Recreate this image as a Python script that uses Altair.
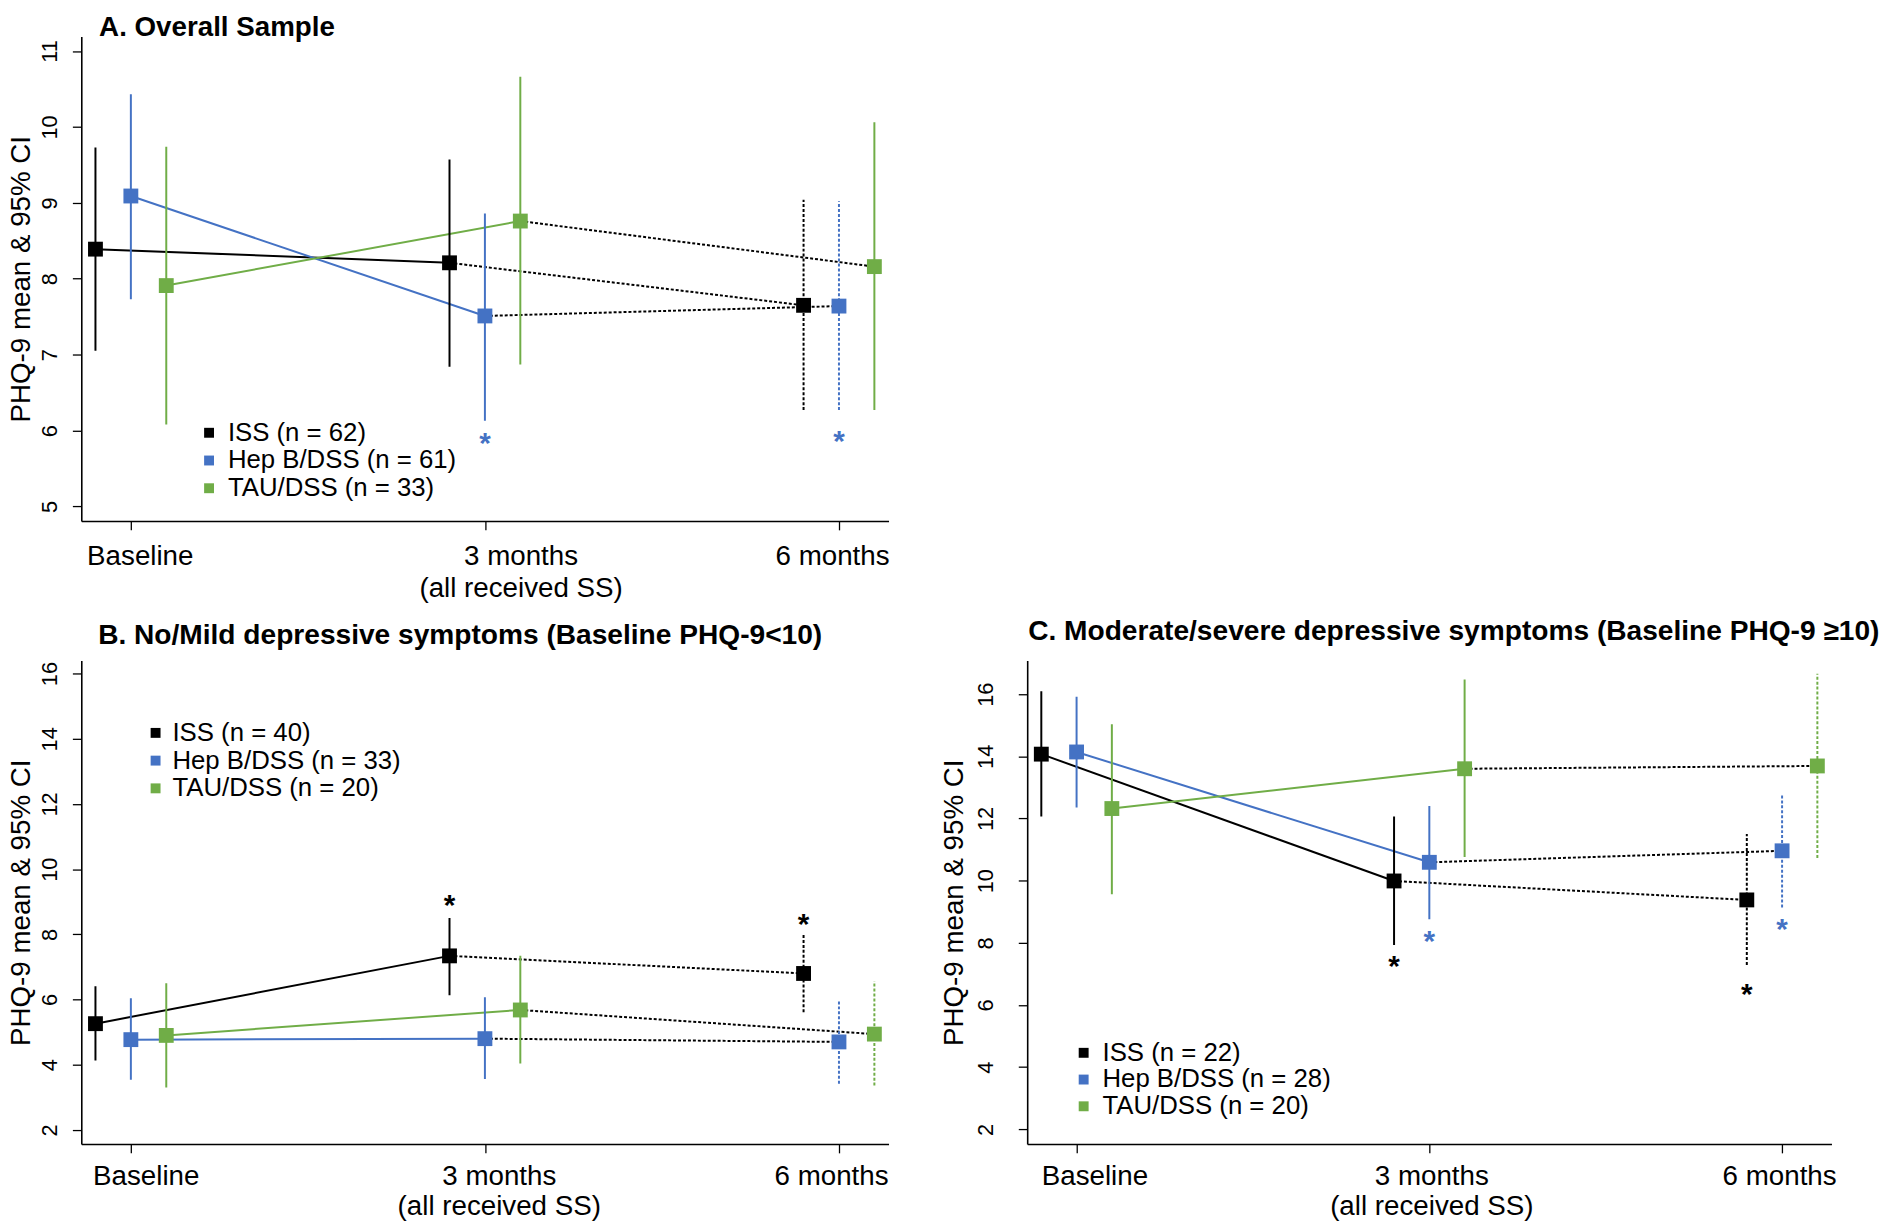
import json
import altair as alt
import pandas as pd

FONT = "Liberation Sans"

GROUPS = ["ISS", "Hep B/DSS", "TAU/DSS"]
TIMES = [1, 2, 3]
TIME_LABELS = ["Baseline", "3 months", "6 months"]
TIME_SUBLABELS = ["", "(all received SS)", ""]

# ---------------- Panel A: Overall sample ----------------
A_TITLE = "A. Overall Sample"
A_N = [62, 61, 33]
A_ISS_MEAN = [8.39, 8.21, 7.65]
A_ISS_LO = [7.05, 6.84, 6.27]
A_ISS_HI = [9.73, 9.57, 9.04]
A_HEP_MEAN = [9.09, 7.51, 7.64]
A_HEP_LO = [7.73, 6.13, 6.27]
A_HEP_HI = [10.43, 8.86, 9.02]
A_TAU_MEAN = [7.91, 8.76, 8.16]
A_TAU_LO = [6.08, 6.87, 6.27]
A_TAU_HI = [9.74, 10.66, 10.06]
A_DASHED_6M = ["ISS", "Hep B/DSS"]
A_STAR_GROUP = ["Hep B/DSS", "Hep B/DSS"]
A_STAR_TIME = [2, 3]
A_STAR_Y = [5.88, 5.90]
A_Y_TICKS = [5, 6, 7, 8, 9, 10, 11]
A_Y_DOMAIN = [4.81, 11.19]

# ---------------- Panel B: No/Mild ----------------
B_TITLE = "B. No/Mild depressive symptoms (Baseline PHQ-9<10)"
B_N = [40, 33, 20]
B_ISS_MEAN = [5.26, 7.34, 6.80]
B_ISS_LO = [4.13, 6.13, 5.61]
B_ISS_HI = [6.41, 8.50, 7.99]
B_HEP_MEAN = [4.77, 4.80, 4.70]
B_HEP_LO = [3.54, 3.56, 3.42]
B_HEP_HI = [6.04, 6.07, 6.00]
B_TAU_MEAN = [4.90, 5.68, 4.94]
B_TAU_LO = [3.30, 4.04, 3.36]
B_TAU_HI = [6.50, 7.34, 6.56]
B_DASHED_6M = ["ISS", "Hep B/DSS", "TAU/DSS"]
B_STAR_GROUP = ["ISS", "ISS"]
B_STAR_TIME = [2, 3]
B_STAR_Y = [8.99, 8.42]
B_Y_TICKS = [2, 4, 6, 8, 10, 12, 14, 16]
B_Y_DOMAIN = [1.57, 16.4]

# ---------------- Panel C: Moderate/severe ----------------
C_TITLE = "C. Moderate/severe depressive symptoms (Baseline PHQ-9 \u226510)"
C_N = [22, 28, 20]
C_ISS_MEAN = [14.07, 9.99, 9.38]
C_ISS_LO = [12.06, 7.93, 7.29]
C_ISS_HI = [16.09, 12.06, 11.50]
C_HEP_MEAN = [14.14, 10.59, 10.96]
C_HEP_LO = [12.35, 8.76, 9.14]
C_HEP_HI = [15.92, 12.40, 12.74]
C_TAU_MEAN = [12.32, 13.60, 13.69]
C_TAU_LO = [9.56, 10.76, 10.73]
C_TAU_HI = [15.03, 16.47, 16.66]
C_DASHED_6M = ["ISS", "Hep B/DSS", "TAU/DSS"]
C_STAR_GROUP = ["ISS", "ISS", "Hep B/DSS", "Hep B/DSS"]
C_STAR_TIME = [2, 3, 2, 3]
C_STAR_Y = [7.36, 6.46, 8.16, 8.53]
C_Y_TICKS = [2, 4, 6, 8, 10, 12, 14, 16]
C_Y_DOMAIN = [1.53, 17.08]

X_DOMAIN = [0.86, 3.14]

COLORS = {"ISS": "#000000", "Hep B/DSS": "#4472C4", "TAU/DSS": "#70AD47"}
DODGE = {"ISS": -0.1, "Hep B/DSS": 0.0, "TAU/DSS": 0.1}


def build_frame(means, los, his, n, dashed6):
    rows = []
    for g, m, lo, hi, nn in zip(GROUPS, means, los, his, n):
        for t, mv, lv, hv in zip(TIMES, m, lo, hi):
            rows.append({
                "group": g,
                "label": f"{g} (n = {nn})",
                "time": t,
                "x": t + DODGE[g],
                "mean": mv,
                "lo": lv,
                "hi": hv,
                "hex": COLORS[g],
                "dashed": bool(t == 3 and g in dashed6),
            })
    return pd.DataFrame(rows)


def build_stars(groups, times, ys):
    return pd.DataFrame({
        "group": groups,
        "x": [t + DODGE[g] for g, t in zip(groups, times)],
        "y": ys,
        "hex": [COLORS[g] for g in groups],
    })


def label_expr():
    parts = []
    for t, a, b in zip(TIMES, TIME_LABELS, TIME_SUBLABELS):
        txt = json.dumps([a, b]) if b else json.dumps(a)
        parts.append((t, txt))
    expr = parts[-1][1]
    for t, txt in reversed(parts[:-1]):
        expr = f"datum.value == {t} ? {txt} : ({expr})"
    return expr


def panel(title, title_dx, title_offset, title_size, df, stars, y_domain, y_ticks,
          width, height, legend_x, legend_y, legend_row_pad, legend_label_offset,
          x_label_offsets, x_label_pad, x_line_height, y_label_pad, y_title_pad):
    labels = list(dict.fromkeys(df["label"]))
    x_axis = alt.Axis(
        values=TIMES, labelExpr=label_expr(), title=None, grid=False,
        labelFont=FONT, labelFontSize=28, labelColor="black", labelLimit=0,
        labelLineHeight=x_line_height, labelPadding=x_label_pad,
        labelOffset={"condition": [
            {"test": "datum.value == 1", "value": x_label_offsets[0]},
            {"test": "datum.value == 2", "value": x_label_offsets[1]}],
            "value": x_label_offsets[2]},
        labelFlush=False, labelOverlap=False,
        tickSize=9, tickColor="black", tickWidth=1.3,
        domainColor="black", domainWidth=1.6,
    )
    y_axis = alt.Axis(
        values=y_ticks, title="PHQ-9 mean & 95% CI", grid=False,
        titleFont=FONT, titleFontSize=28, titleFontWeight="normal", titleColor="black",
        titlePadding=y_title_pad,
        labelFont=FONT, labelFontSize=22, labelColor="black", labelAngle=270,
        labelAlign="center", labelBaseline="bottom", labelPadding=y_label_pad,
        labelFlush=False, labelOverlap=False, labelLimit=0,
        tickSize=9, tickColor="black", tickWidth=1.3,
        domainColor="black", domainWidth=1.6,
    )
    xs = alt.Scale(domain=X_DOMAIN, nice=False, zero=False)
    ys = alt.Scale(domain=y_domain, nice=False, zero=False)
    X = alt.X("x:Q", scale=xs, axis=x_axis)
    Y = alt.Y("mean:Q", scale=ys, axis=y_axis)

    base = alt.Chart(df)
    solid = base.transform_filter("datum.time <= 2").mark_line(strokeWidth=2).encode(
        x=X, y=Y, detail="group:N", color=alt.Color("hex:N", scale=None))
    dotted = base.transform_filter("datum.time >= 2").mark_line(
        strokeWidth=2, color="black", strokeDash=[3, 2]).encode(
        x=X, y=Y, detail="group:N")
    bars = base.mark_rule(strokeWidth=2).encode(
        x=X, y=alt.Y("lo:Q", scale=ys, axis=y_axis), y2="hi:Q",
        color=alt.Color("hex:N", scale=None),
        strokeDash=alt.condition("datum.dashed", alt.value([3, 2]), alt.value([1, 0])))
    squares = base.mark_point(shape="square", filled=True, size=225, opacity=1).encode(
        x=X, y=Y,
        color=alt.Color("label:N", scale=alt.Scale(domain=labels, range=[COLORS[g] for g in GROUPS]),
                        legend=alt.Legend(
                            title=None, orient="none", legendX=legend_x, legendY=legend_y,
                            symbolType="square", symbolSize=100, symbolStrokeWidth=0,
                            labelFont=FONT, labelFontSize=26, labelColor="black",
                            labelLimit=0, labelOffset=legend_label_offset,
                            rowPadding=legend_row_pad, padding=0)))
    star = alt.Chart(stars).mark_text(text="*", fontSize=30, font=FONT, fontWeight="bold",
                                      baseline="alphabetic", dy=13).encode(
        x=alt.X("x:Q", scale=xs, axis=x_axis), y=alt.Y("y:Q", scale=ys, axis=y_axis),
        color=alt.Color("hex:N", scale=None))

    return alt.layer(solid, dotted, bars, squares, star).properties(
        width=width, height=height,
        title=alt.TitleParams(text=title, anchor="start", frame="group", dx=title_dx,
                              offset=title_offset, font=FONT, fontSize=title_size,
                              fontWeight="bold", color="black"))


dfA = build_frame([A_ISS_MEAN, A_HEP_MEAN, A_TAU_MEAN], [A_ISS_LO, A_HEP_LO, A_TAU_LO],
                  [A_ISS_HI, A_HEP_HI, A_TAU_HI], A_N, A_DASHED_6M)
dfB = build_frame([B_ISS_MEAN, B_HEP_MEAN, B_TAU_MEAN], [B_ISS_LO, B_HEP_LO, B_TAU_LO],
                  [B_ISS_HI, B_HEP_HI, B_TAU_HI], B_N, B_DASHED_6M)
dfC = build_frame([C_ISS_MEAN, C_HEP_MEAN, C_TAU_MEAN], [C_ISS_LO, C_HEP_LO, C_TAU_LO],
                  [C_ISS_HI, C_HEP_HI, C_TAU_HI], C_N, C_DASHED_6M)

pA = panel(A_TITLE, 18, -5, 28, dfA, build_stars(A_STAR_GROUP, A_STAR_TIME, A_STAR_Y),
           A_Y_DOMAIN, A_Y_TICKS, 815, 489, 116, 387, 2, 6,
           [9, 36, -7], 13, 32, 11, 3)
pB = panel(B_TITLE, 17, 10, 28.4, dfB, build_stars(B_STAR_GROUP, B_STAR_TIME, B_STAR_Y),
           B_Y_DOMAIN, B_Y_TICKS, 815, 488, 62, 60, 2, 4,
           [15, 14, -8], 10, 30, 11, 3)
pC = panel(C_TITLE, 1, 14, 28.4, dfC, build_stars(C_STAR_GROUP, C_STAR_TIME, C_STAR_Y),
           C_Y_DOMAIN, C_Y_TICKS, 812, 488, 44, 383, 1, 6,
           [18, 2, -3], 10, 30, 21, 6)

row2 = alt.hconcat(pB, pC, spacing=140, bounds="flush").resolve_scale(
    x="independent", y="independent", color="independent")
chart = alt.vconcat(pA, row2, spacing=141, bounds="flush").resolve_scale(
    x="independent", y="independent", color="independent").properties(
    padding=0, background="white").configure_view(stroke=None)

chart.save("out.html", embed_options={"renderer": "svg", "actions": False})
